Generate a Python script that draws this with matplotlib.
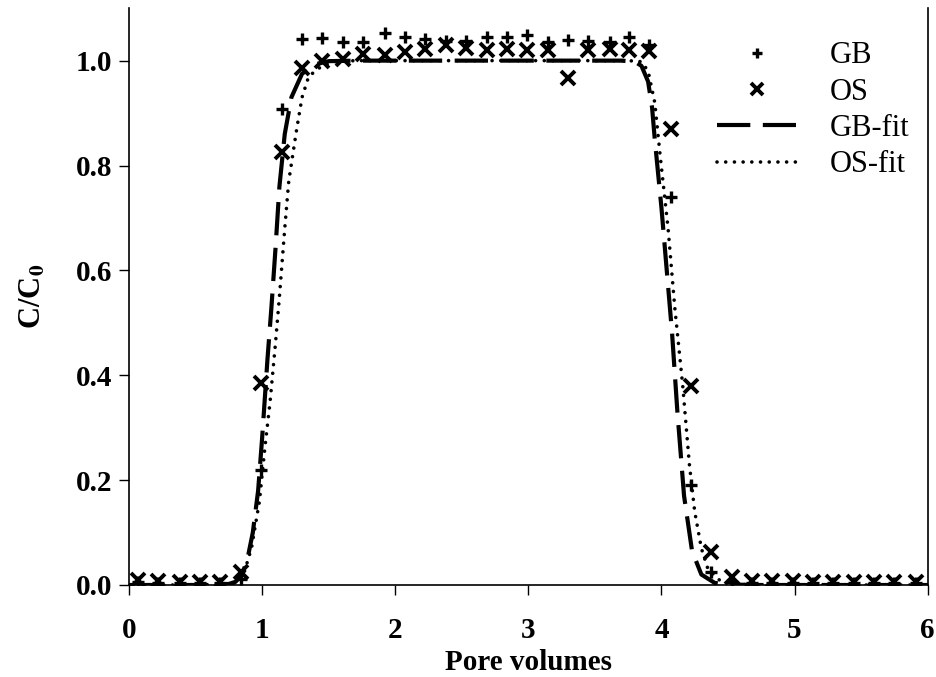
import numpy as np
import matplotlib
matplotlib.use("Agg")
import matplotlib.pyplot as plt

plt.rcParams["font.family"] = ["Liberation Serif", "DejaVu Serif"]
plt.rcParams["mathtext.fontset"] = "stix"

# pore volumes at which samples were taken (both columns)
pv = [0.07, 0.22, 0.38, 0.53, 0.68, 0.84, 0.99, 1.15, 1.30, 1.45, 1.61, 1.76, 1.92,
      2.07, 2.22, 2.38, 2.53, 2.69, 2.84, 2.99, 3.15, 3.30, 3.45, 3.61, 3.76, 3.91,
      4.07, 4.22, 4.37, 4.53, 4.68, 4.83, 4.99, 5.14, 5.29, 5.45, 5.60, 5.75, 5.91]

gb = [0.005, 0.004, 0.004, 0.003, 0.003, 0.012, 0.22, 0.908, 1.042, 1.044, 1.036, 1.036, 1.052,
      1.046, 1.042, 1.038, 1.038, 1.046, 1.046, 1.048, 1.036, 1.040, 1.038, 1.036, 1.046, 1.030,
      0.74, 0.19, 0.025, 0.005, 0.004, 0.004, 0.004, 0.004, 0.004, 0.004, 0.004, 0.004, 0.004]

os_ = [0.010, 0.008, 0.006, 0.006, 0.005, 0.025, 0.385, 0.826, 0.985, 1.000, 1.004, 1.013, 1.010,
       1.017, 1.023, 1.030, 1.025, 1.020, 1.023, 1.020, 1.020, 0.966, 1.020, 1.023, 1.020, 1.018,
       0.87, 0.38, 0.063, 0.015, 0.008, 0.007, 0.007, 0.006, 0.006, 0.006, 0.005, 0.005, 0.006]

# fitted curves
gb_fit_x = [0.0, 0.6, 0.75, 0.80, 0.85, 0.89, 0.93, 0.97, 1.00, 1.04, 1.07, 1.10, 1.13, 1.17,
            1.22, 1.30, 1.40, 1.50, 1.70, 3.70, 3.80, 3.85, 3.90, 3.93, 3.95, 4.00, 4.05, 4.08,
            4.12, 4.17, 4.23, 4.30, 4.40, 4.50, 4.70, 6.0]
gb_fit_y = [0.0, 0.0, 0.002, 0.006, 0.02, 0.05, 0.10, 0.18, 0.28, 0.43, 0.53, 0.64, 0.76, 0.86,
            0.93, 0.975, 0.993, 0.999, 1.0, 1.0, 0.998, 0.99, 0.96, 0.91, 0.85, 0.72, 0.57, 0.48,
            0.33, 0.17, 0.065, 0.02, 0.004, 0.001, 0.0, 0.0]

os_fit_x = [0.0, 0.6, 0.75, 0.80, 0.86, 0.92, 0.98, 1.02, 1.06, 1.10, 1.13, 1.17, 1.20, 1.26,
            1.30, 1.35, 1.45, 1.55, 1.70, 3.75, 3.85, 3.90, 3.95, 3.99, 4.05, 4.10, 4.16, 4.21,
            4.25, 4.30, 4.35, 4.45, 4.60, 4.80, 6.0]
os_fit_y = [0.0, 0.0, 0.001, 0.004, 0.02, 0.07, 0.16, 0.26, 0.35, 0.46, 0.55, 0.68, 0.77, 0.87,
            0.93, 0.97, 0.99, 0.998, 1.0, 1.0, 0.998, 0.98, 0.92, 0.82, 0.68, 0.53, 0.38, 0.23,
            0.14, 0.07, 0.03, 0.006, 0.001, 0.0, 0.0]

fig = plt.figure(figsize=(9.37, 6.77), dpi=100)
ax = fig.add_axes([0.1377, 0.1359, 0.8523, 0.852])

ax.plot(pv, gb, linestyle="none", marker="+", markersize=9, markeredgewidth=2.4,
        color="black", label="GB")
ax.plot(pv, os_, linestyle="none", marker="x", markersize=10, markeredgewidth=2.8,
        color="black", label="OS")
ax.plot(gb_fit_x, gb_fit_y, color="black", linewidth=3, dashes=(8, 3), label="GB-fit")
ax.plot(os_fit_x, os_fit_y, color="black", linewidth=2.6, dashes=(0.01, 2.4),
        dash_capstyle="round", label="OS-fit")

ax.set_xlim(0, 6)
ax.set_ylim(0, 1.1)
ax.set_xticks([0, 1, 2, 3, 4, 5, 6])
ax.set_yticks([0.0, 0.2, 0.4, 0.6, 0.8, 1.0])
ax.set_yticklabels(["0.0", "0.2", "0.4", "0.6", "0.8", "1.0"])
ax.tick_params(direction="out", length=7, width=1, labelsize=21)
ax.tick_params(axis="x", pad=16)
ax.tick_params(axis="y", pad=5)
for lab in ax.get_xticklabels() + ax.get_yticklabels():
    lab.set_fontweight("bold")

ax.spines["top"].set_visible(False)
for s in ["left", "right", "bottom"]:
    ax.spines[s].set_linewidth(1.2)

ax.set_xlabel("Pore volumes", fontsize=21, fontweight="bold", labelpad=4)
ax.set_ylabel(r"C/C$_\mathbf{0}$", fontsize=22, fontweight="bold", labelpad=20)

ax.legend(loc="upper right", bbox_to_anchor=(1.012, 0.99), frameon=False, fontsize=22,
          handlelength=2.6, handletextpad=1.1, labelspacing=0.24, markerscale=0.85)

fig.savefig("out.png", dpi=100)
